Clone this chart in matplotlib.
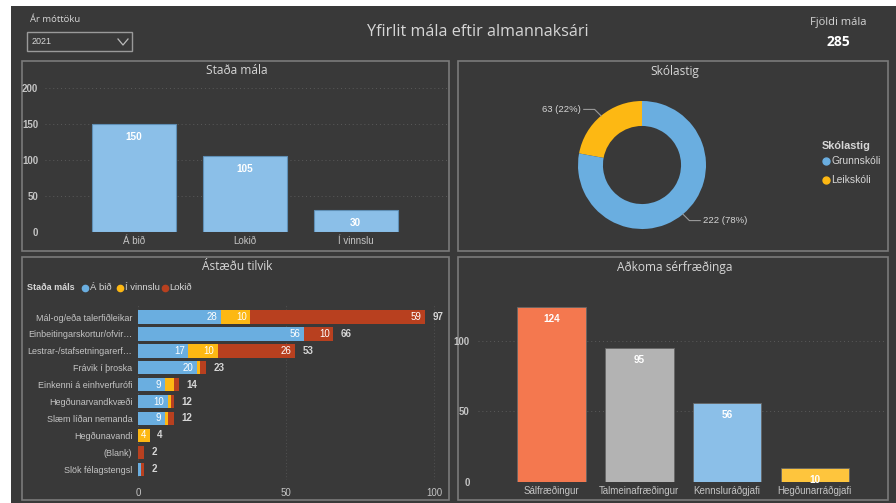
import matplotlib
matplotlib.use("Agg")
import matplotlib.pyplot as plt
from matplotlib.patches import Rectangle
from matplotlib.lines import Line2D
import numpy as np

# ---------------- data ----------------
stada_cats = ["Á bið", "Lokið", "Í vinnslu"]
stada_vals = [150, 105, 30]

skola_cats = ["Grunnskóli", "Leikskóli"]
skola_vals = [222, 63]

astaedur = ["Mál-og/eða talerfiðleikar", "Einbeitingarskortur/ofvir…",
            "Lestrar-/stafsetningarerf…", "Frávik í þroska",
            "Einkenni á einhverfurófi", "Hegðunarvandkvæði",
            "Slæm líðan nemanda", "Hegðunavandi", "(Blank)",
            "Slök félagstengsl"]
a_bid = [28, 56, 17, 20, 9, 10, 9, 0, 0, 1]
i_vinnslu = [10, 0, 10, 1, 3, 1, 1, 4, 0, 0]
lokid = [59, 10, 26, 2, 2, 1, 2, 0, 2, 1]

serf_cats = ["Sálfræðingur", "Talmeinafræðingur", "Kennsluráðgjafi", "Hegðunarráðgjafi"]
serf_vals = [124, 95, 56, 10]

year = "2021"
total_cases = 285

# ---------------- style ----------------
W, H = 896, 503
BG = "#393939"
BORDER = "#7a7a7a"
TXT = "#d6d6d6"
TICK = "#c4c4c4"
GRID = "#5a5a5a"
BLUE = "#8bbfe8"
DBLUE = "#6aaee0"
YEL = "#fdb813"
RED = "#b8401f"
FONT = "Liberation Sans"
TFONT = "Open Sans"

fig = plt.figure(figsize=(W / 100, H / 100), dpi=100)
fig.patch.set_facecolor("white")


def fx(x):
    return x / W


def fy(y):
    return 1 - y / H


def rect(x0, y0, x1, y1):
    return [x0 / W, 1 - y1 / H, (x1 - x0) / W, (y1 - y0) / H]


# dashboard background
fig.add_artist(Rectangle((fx(11), fy(503)), (W - 11) / W, (503 - 6) / H,
                         transform=fig.transFigure, facecolor=BG, edgecolor="none", zorder=-10))

# panels
panels = [(22, 61, 449, 251), (458, 61, 888, 251), (22, 257, 449, 500), (458, 257, 888, 500)]
for (x0, y0, x1, y1) in panels:
    fig.add_artist(Rectangle((fx(x0), fy(y1)), (x1 - x0) / W, (y1 - y0) / H,
                             transform=fig.transFigure, facecolor="none",
                             edgecolor=BORDER, linewidth=1.2, zorder=-5))

# header
fig.text(fx(30), fy(20), "Ár móttöku", color=TXT, fontsize=6.8, family=TFONT, va="center")
fig.add_artist(Rectangle((fx(27), fy(51)), 105 / W, 19 / H, transform=fig.transFigure,
                         facecolor="none", edgecolor="#9a9a9a", linewidth=1))
fig.text(fx(32), fy(42), year, color=TXT, fontsize=6.5, family=FONT, va="center")
fig.add_artist(Line2D([fx(118), fx(123), fx(128)], [fy(39), fy(45), fy(39)],
                      transform=fig.transFigure, color="#bbbbbb", linewidth=0.9))
fig.text(fx(478), fy(32), "Yfirlit mála eftir almannaksári", color=TXT, fontsize=11.6,
         family=TFONT, ha="center", va="center")
fig.text(fx(838), fy(22), "Fjöldi mála", color=TXT, fontsize=8, family=TFONT,
         ha="center", va="center")
fig.text(fx(838), fy(42), str(total_cases), color="white", fontsize=10, family=TFONT,
         fontweight="bold", ha="center", va="center")


def style_ax(ax, size=7):
    ax.set_facecolor("none")
    for s in ax.spines.values():
        s.set_visible(False)
    ax.tick_params(colors=TICK, length=0, labelsize=size)
    for lab in ax.get_xticklabels() + ax.get_yticklabels():
        lab.set_family(FONT)


# ---------------- Staða mála ----------------
fig.text(fx(237), fy(71), "Staða mála", color=TXT, fontsize=8.6, family=TFONT,
         ha="center", va="center")
ax1 = fig.add_axes(rect(45, 88, 449, 232))
x1 = np.arange(len(stada_cats))
bars = ax1.bar(x1, stada_vals, width=0.757, color=BLUE, edgecolor="#5f8fb5", linewidth=0.8, zorder=3)
ax1.set_xlim(-0.80, 2.84)
ax1.set_ylim(0, 200)
ax1.set_yticks([0, 50, 100, 150, 200])
ax1.set_xticks(x1)
ax1.set_xticklabels(stada_cats)
ax1.yaxis.grid(True, color=GRID, linestyle=(0, (1, 3)), linewidth=0.7)
style_ax(ax1)
ax1.tick_params(axis="y", pad=5)
ax1.tick_params(axis="x", pad=3)
for lab in ax1.get_yticklabels():
    lab.set_fontweight("bold")
for b, v in zip(bars, stada_vals):
    ax1.annotate(str(v), (b.get_x() + b.get_width() / 2, v), xytext=(0, -9),
                 textcoords="offset points", ha="center", va="center",
                 color="white", fontsize=7.2, fontweight="bold", family=FONT)

# ---------------- Skólastig ----------------
fig.text(fx(675), fy(71), "Skólastig", color=TXT, fontsize=8.6, family=TFONT,
         ha="center", va="center")
ax2 = fig.add_axes(rect(642 - 80, 165 - 80, 642 + 80, 165 + 80))
ax2.set_facecolor("none")
order_vals = [skola_vals[1], skola_vals[0]]
order_cols = [YEL, DBLUE]
wedges, _ = ax2.pie(order_vals, colors=order_cols, startangle=90, counterclock=True,
                    radius=1, wedgeprops=dict(width=0.39, edgecolor="none"))
ax2.set_xlim(-1.25, 1.25)
ax2.set_ylim(-1.25, 1.25)
ax2.set_aspect("equal")
ax2.axis("off")
tot = sum(skola_vals)
for w, v, side in zip(wedges, order_vals, [-1, 1]):
    ang = np.deg2rad((w.theta1 + w.theta2) / 2)
    px, py = np.cos(ang), np.sin(ang)
    knee = (px + side * 0.1, py + (0.1 if side < 0 else -0.1))
    end = (knee[0] + side * 0.17, knee[1])
    ax2.plot([px, knee[0], end[0]], [py, knee[1], end[1]], color="#9a9a9a", lw=0.8,
             clip_on=False)
    ax2.text(end[0] + side * 0.04, end[1], f"{v} ({round(100 * v / tot)}%)",
             ha="left" if side > 0 else "right", va="center", color=TXT,
             fontsize=6.8, family=FONT)

fig.text(fx(822), fy(146), "Skólastig", color=TXT, fontsize=7.8, family=FONT,
         fontweight="bold", va="center")
for i, (c, col) in enumerate(zip(skola_cats, [DBLUE, YEL])):
    yy = 161 + 19 * i
    fig.add_artist(Line2D([fx(826)], [fy(yy)], transform=fig.transFigure, marker="o",
                          markersize=5, color=col, linestyle="none"))
    fig.text(fx(831), fy(yy), c, color=TXT, fontsize=7.4, family=FONT, va="center")

# ---------------- Ástæðu tilvik ----------------
fig.text(fx(237), fy(267), "Ástæðu tilvik", color=TXT, fontsize=8.6, family=TFONT,
         ha="center", va="center")
ax3 = fig.add_axes(rect(138, 305, 445, 480))
y3 = np.arange(len(astaedur))
a_bid_a = np.array(a_bid)
i_v_a = np.array(i_vinnslu)
lok_a = np.array(lokid)
h = 0.79
ax3.barh(y3, a_bid_a, height=h, color=DBLUE, zorder=3)
ax3.barh(y3, i_v_a, left=a_bid_a, height=h, color=YEL, zorder=3)
ax3.barh(y3, lok_a, left=a_bid_a + i_v_a, height=h, color=RED, zorder=3)
ax3.set_ylim(9.64, -0.71)
ax3.set_xlim(0, 103.7)
ax3.set_yticks(y3)
ax3.set_yticklabels(astaedur)
ax3.set_xticks([0, 50, 100])
ax3.xaxis.grid(True, color=GRID, linestyle=(0, (1, 3)), linewidth=0.6)
ax3.set_axisbelow(True)
style_ax(ax3)
ax3.tick_params(axis="y", pad=4, labelsize=6.5)
ax3.tick_params(axis="x", pad=6)
totals = a_bid_a + i_v_a + lok_a
for i in range(len(astaedur)):
    left = 0
    for v in (a_bid_a[i], i_v_a[i], lok_a[i]):
        if v >= 4:
            ax3.text(left + v - 1.2 if v >= 9 else left + v / 2, i, str(v),
                     ha="right" if v >= 9 else "center", va="center", color="white",
                     fontsize=7, family=FONT)
        left += v
    ax3.text(totals[i] + 2.5, i, str(totals[i]), ha="left", va="center", color=TXT,
             fontsize=7, fontweight="bold", family=FONT)

fig.text(fx(27), fy(288), "Staða máls", color=TXT, fontsize=6.5, family=FONT,
         fontweight="bold", va="center")
leg_items = [("Á bið", DBLUE, 85), ("Í vinnslu", YEL, 120), ("Lokið", RED, 165)]
for name, col, xx in leg_items:
    fig.add_artist(Line2D([fx(xx)], [fy(288)], transform=fig.transFigure, marker="o",
                          markersize=4.5, color=col, linestyle="none"))
    fig.text(fx(xx + 4.5), fy(288), name, color=TXT, fontsize=6.8, family=FONT, va="center")

# ---------------- Aðkoma sérfræðinga ----------------
fig.text(fx(675), fy(267), "Aðkoma sérfræðinga", color=TXT, fontsize=8.6, family=TFONT,
         ha="center", va="center")
ax4 = fig.add_axes(rect(478, 290, 885, 482))
x4 = np.arange(len(serf_cats))
cols4 = ["#f4784f", "#b3b3b3", BLUE, "#fec53d"]
bars4 = ax4.bar(x4, serf_vals, width=0.78, color=cols4, edgecolor="#666666",
                linewidth=0.6, zorder=3)
ax4.set_xlim(-0.84, 3.8)
ax4.set_ylim(0, 136)
ax4.set_yticks([0, 50, 100])
ax4.set_xticks(x4)
ax4.set_xticklabels(serf_cats)
ax4.yaxis.grid(True, color=GRID, linestyle=(0, (1, 3)), linewidth=0.7)
style_ax(ax4)
ax4.tick_params(axis="y", pad=6)
ax4.tick_params(axis="x", pad=3)
for lab in ax4.get_yticklabels():
    lab.set_fontweight("bold")
for b, v in zip(bars4, serf_vals):
    ax4.annotate(str(v), (b.get_x() + b.get_width() / 2, v), xytext=(0, -9),
                 textcoords="offset points", ha="center", va="center",
                 color="white", fontsize=7.2, fontweight="bold", family=FONT)

fig.savefig("out.png", dpi=100, facecolor=fig.get_facecolor())
